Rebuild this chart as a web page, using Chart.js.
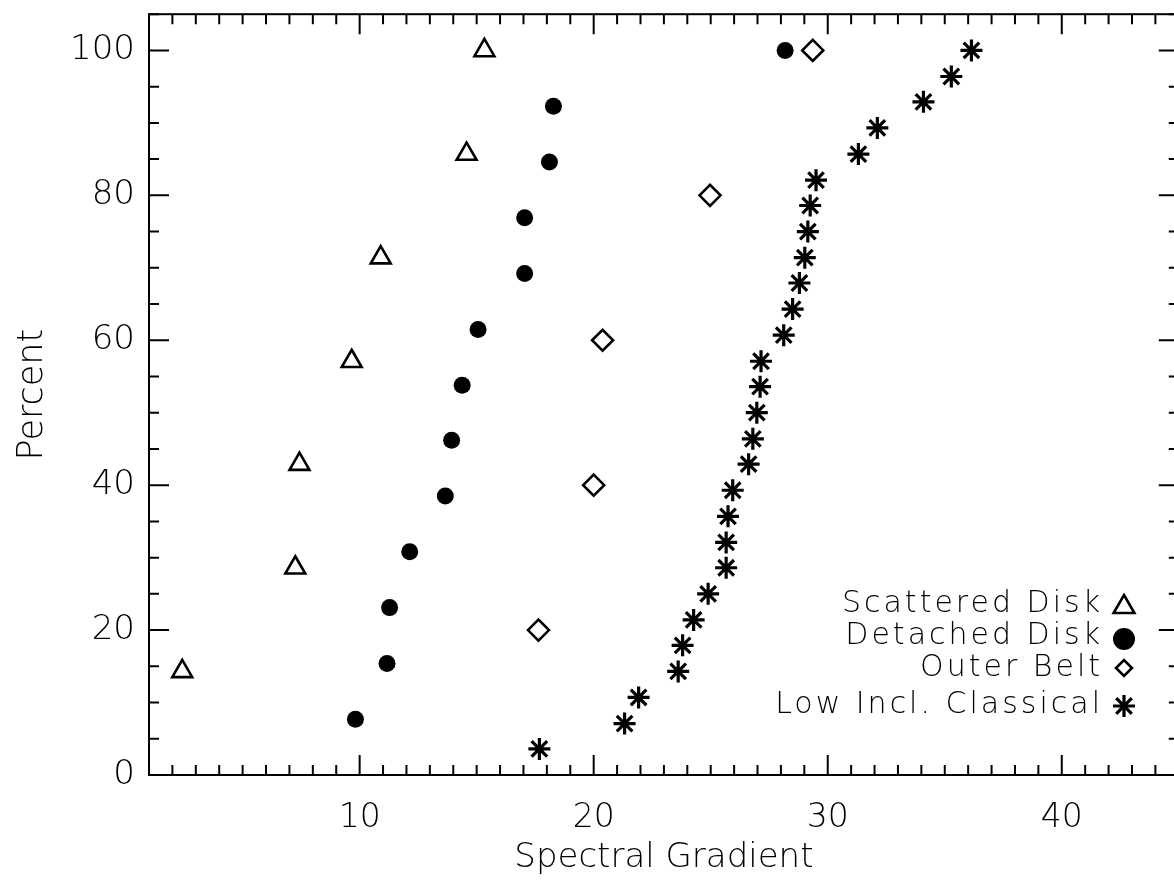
<!DOCTYPE html>
<html><head><meta charset="utf-8">
<script src="https://cdn.jsdelivr.net/npm/chart.js@4/dist/chart.umd.min.js"></script>
<style>html,body{margin:0;padding:0;overflow:hidden;background:#fff}</style>
</head><body>
<canvas id="c" width="1193" height="880" style="display:block"></canvas>
<script>
// ---- data ----
const scatteredX = [2.42, 7.25, 7.43, 9.66, 10.9, 14.57, 15.33];
const scatteredY = [14.3, 28.6, 42.9, 57.1, 71.4, 85.7, 100];
const detachedX = [9.82, 11.17, 11.28, 12.14, 13.66, 13.93, 14.38, 15.06, 17.05, 17.05, 18.11, 18.28, 28.18];
const detachedY = [7.7, 15.4, 23.1, 30.8, 38.5, 46.2, 53.8, 61.5, 69.2, 76.9, 84.6, 92.3, 100];
const outerX = [17.64, 20.0, 20.38, 24.97, 29.36];
const outerY = [20, 40, 60, 80, 100];
const classicalX = [17.68, 21.32, 21.92, 23.61, 23.80, 24.27, 24.89, 25.66, 25.66, 25.74, 25.94, 26.62, 26.80, 26.97, 27.11, 27.15, 28.12, 28.50, 28.79, 29.02, 29.15, 29.25, 29.50, 31.31, 32.12, 34.09, 35.28, 36.14];
const classicalY = [3.6, 7.1, 10.7, 14.3, 17.9, 21.4, 25.0, 28.6, 32.1, 35.7, 39.3, 42.9, 46.4, 50.0, 53.6, 57.1, 60.7, 64.3, 67.9, 71.4, 75.0, 78.6, 82.1, 85.7, 89.3, 92.9, 96.4, 100];
const seriesNames = ['Scattered Disk', 'Detached Disk', 'Outer Belt', 'Low Incl. Classical'];
const xTickLabels = [10, 20, 30, 40];
const yTickLabels = [0, 20, 40, 60, 80, 100];
const xTitle = 'Spectral Gradient';
const yTitle = 'Percent';

// ---- styling ----
const FONT = 'DejaVu Sans';
const W = '200';
const pts = (xs, ys) => xs.map((x, i) => ({x: x, y: ys[i]}));
const markers = [
  {pointStyle: 'triangle', radius: 11.5, bw: 2.6, fill: 'rgba(0,0,0,0)'},
  {pointStyle: 'circle', radius: 8.5, bw: 0, fill: '#000'},
  {pointStyle: 'rectRot', radius: 10.5, bw: 2.6, fill: 'rgba(0,0,0,0)'},
  {pointStyle: 'star', radius: 11, bw: 3.2, fill: 'rgba(0,0,0,0)'}
];
const seriesData = [pts(scatteredX, scatteredY), pts(detachedX, detachedY), pts(outerX, outerY), pts(classicalX, classicalY)];

const datasets = seriesNames.map((name, i) => ({
  label: name,
  data: seriesData[i],
  pointStyle: markers[i].pointStyle,
  pointRadius: markers[i].radius,
  pointHoverRadius: markers[i].radius,
  pointBorderWidth: markers[i].bw,
  pointBorderColor: '#000',
  pointBackgroundColor: markers[i].fill,
  showLine: false
}));

const frameTicks = {
  id: 'frameTicks',
  afterDraw(chart) {
    const ctx = chart.ctx, a = chart.chartArea, xs = chart.scales.x, ys = chart.scales.y;
    ctx.save();
    ctx.strokeStyle = '#000';
    ctx.lineWidth = 2;
    ctx.strokeRect(a.left, a.top, a.right - a.left, a.bottom - a.top);
    ctx.beginPath();
    for (let v = Math.ceil(xs.min); v <= xs.max; v += 1) {
      const p = xs.getPixelForValue(v);
      const len = xTickLabels.includes(v) ? 20 : 10;
      ctx.moveTo(p, a.bottom); ctx.lineTo(p, a.bottom - len);
      ctx.moveTo(p, a.top); ctx.lineTo(p, a.top + len);
    }
    for (let v = 0; v <= ys.max; v += 5) {
      const p = ys.getPixelForValue(v);
      const len = yTickLabels.includes(v) ? 20 : 10;
      ctx.moveTo(a.left, p); ctx.lineTo(a.left + len, p);
      ctx.moveTo(a.right, p); ctx.lineTo(a.right - len, p);
    }
    ctx.stroke();
    ctx.restore();
  }
};

const legendRows = [
  {ty: 604, sy: 607, r: 12},
  {ty: 636, sy: 639, r: 11},
  {ty: 668, sy: 668, r: 8},
  {ty: 705, sy: 706, r: 11}
];
const legendPlugin = {
  id: 'legendPlugin',
  afterDraw(chart) {
    const ctx = chart.ctx;
    ctx.save();
    ctx.fillStyle = '#000';
    ctx.font = W + ' 30px "' + FONT + '"';
    ctx.letterSpacing = '3px';
    ctx.textAlign = 'right';
    ctx.textBaseline = 'middle';
    seriesNames.forEach((name, i) => {
      ctx.fillText(name, 1103, legendRows[i].ty);
    });
    ctx.letterSpacing = '0px';
    seriesNames.forEach((name, i) => {
      const row = legendRows[i];
      ctx.strokeStyle = '#000';
      ctx.fillStyle = markers[i].fill;
      ctx.lineWidth = markers[i].bw || 1;
      Chart.helpers.drawPoint(ctx, {
        pointStyle: markers[i].pointStyle,
        radius: row.r,
        borderWidth: markers[i].bw,
        rotation: 0
      }, 1124, row.sy);
    });
    ctx.restore();
  }
};

function zeroPad(s) { s.paddingLeft = 0; s.paddingRight = 0; s.paddingTop = 0; s.paddingBottom = 0; }

new Chart(document.getElementById('c'), {
  type: 'scatter',
  data: {datasets: datasets},
  options: {
    responsive: false,
    animation: false,
    devicePixelRatio: 1,
    layout: {padding: {top: 14, right: 1, left: 0, bottom: 0}},
    plugins: {legend: {display: false}, tooltip: {enabled: false}},
    scales: {
      x: {
        type: 'linear', min: 1, max: 45,
        afterFit(s) { s.height = 105; zeroPad(s); },
        afterBuildTicks(s) { s.ticks = xTickLabels.map(v => ({value: v})); },
        ticks: {stepSize: 10, color: '#000', padding: 24, font: {family: FONT, size: 33, weight: W}},
        grid: {display: false, drawTicks: false},
        border: {display: false},
        title: {display: true, text: xTitle, color: '#000', padding: {top: 0, bottom: 1}, font: {family: FONT, size: 34, weight: W}}
      },
      y: {
        type: 'linear', min: 0, max: 105,
        afterFit(s) { s.width = 149; zeroPad(s); },
        afterBuildTicks(s) { s.ticks = yTickLabels.map(v => ({value: v})); },
        ticks: {stepSize: 20, color: '#000', padding: 14, font: {family: FONT, size: 34, weight: W}},
        grid: {display: false, drawTicks: false},
        border: {display: false},
        title: {display: true, text: yTitle, color: '#000', padding: {top: 12, bottom: 0}, font: {family: FONT, size: 35, weight: W}}
      }
    }
  },
  plugins: [frameTicks, legendPlugin]
});
</script>
</body></html>
